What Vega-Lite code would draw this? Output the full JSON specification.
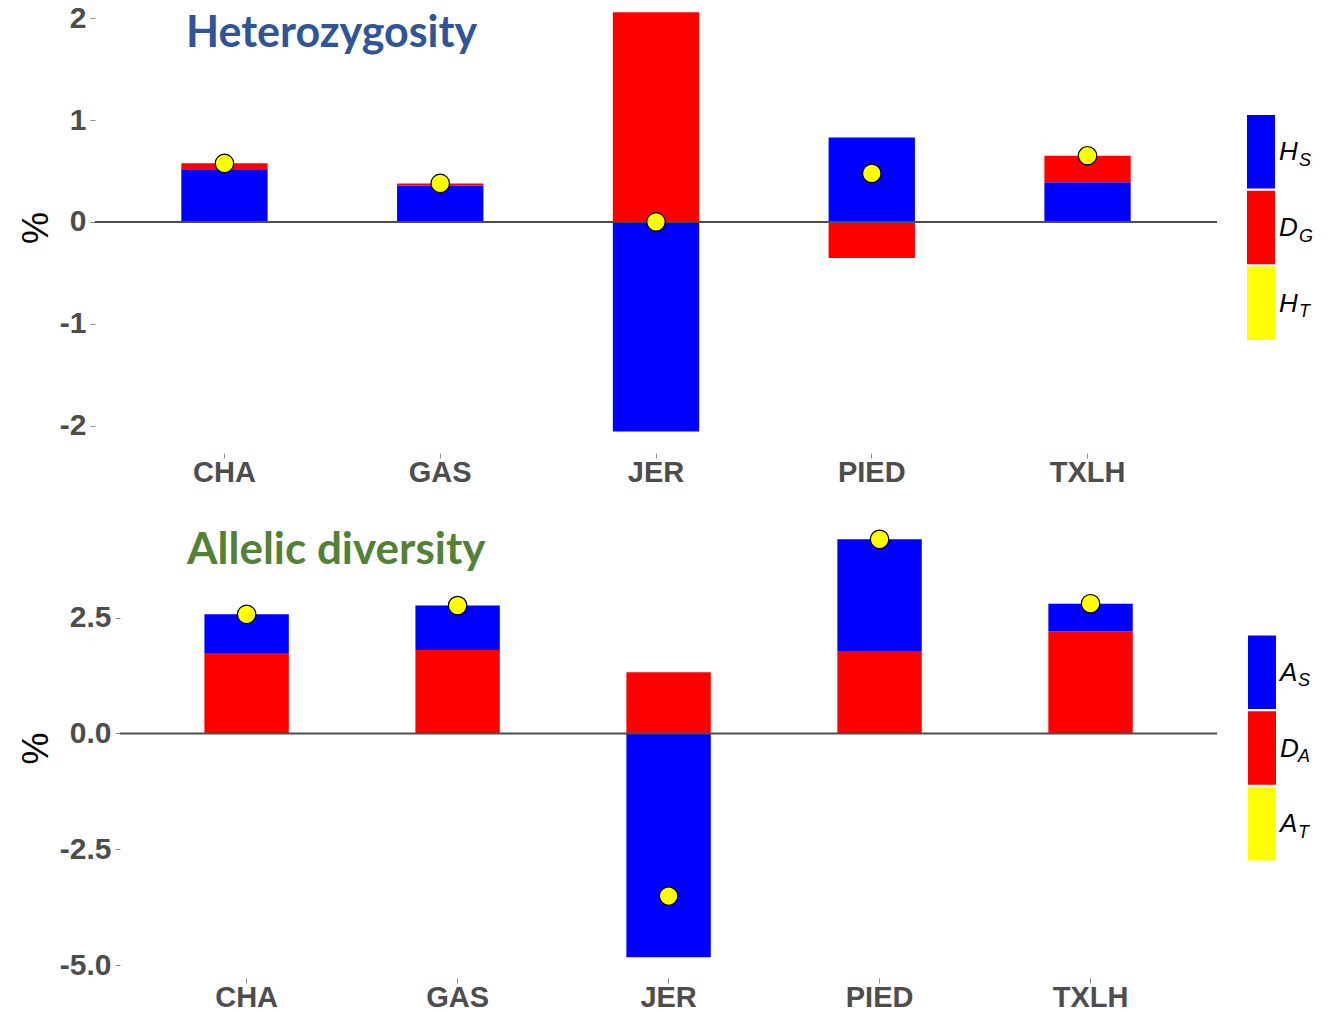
{
  "$schema": "https://vega.github.io/schema/vega-lite/v6.json",
  "background": "white",
  "padding": {"left": 18, "top": 2, "right": 0, "bottom": 0},
  "config": {
    "view": {"stroke": null},
    "axis": {
      "labelFont": "Liberation Sans",
      "labelFontWeight": "bold",
      "labelFontSize": 30,
      "labelColor": "#4D4D4D",
      "domain": false,
      "grid": false,
      "ticks": true,
      "tickColor": "#8C8C8C",
      "tickSize": 5,
      "labelPadding": 4,
      "titleFont": "Liberation Sans",
      "titleFontSize": 36,
      "titleFontWeight": "normal",
      "titleColor": "#000000",
      "titlePadding": 4
    },
    "axisX": {"labelPadding": 0, "labelFontSize": 29}
  },
  "resolve": {"scale": {"color": "independent", "y": "independent", "x": "independent"}},
  "datasets": {
    "het_bars": [
      {"site": "CHA", "comp": "HS", "value": 0.51},
      {"site": "CHA", "comp": "DG", "value": 0.065},
      {"site": "GAS", "comp": "HS", "value": 0.354},
      {"site": "GAS", "comp": "DG", "value": 0.024},
      {"site": "JER", "comp": "HS", "value": -2.06},
      {"site": "JER", "comp": "DG", "value": 2.06},
      {"site": "PIED", "comp": "HS", "value": 0.83},
      {"site": "PIED", "comp": "DG", "value": -0.354},
      {"site": "TXLH", "comp": "HS", "value": 0.39},
      {"site": "TXLH", "comp": "DG", "value": 0.26}
    ],
    "het_total": [
      {"site": "CHA", "total": 0.575},
      {"site": "GAS", "total": 0.378},
      {"site": "JER", "total": 0.0},
      {"site": "PIED", "total": 0.476},
      {"site": "TXLH", "total": 0.65}
    ],
    "al_bars": [
      {"site": "CHA", "comp": "DA", "value": 1.72},
      {"site": "CHA", "comp": "AS", "value": 0.85},
      {"site": "GAS", "comp": "DA", "value": 1.8},
      {"site": "GAS", "comp": "AS", "value": 0.96},
      {"site": "JER", "comp": "DA", "value": 1.32},
      {"site": "JER", "comp": "AS", "value": -4.83},
      {"site": "PIED", "comp": "DA", "value": 1.78},
      {"site": "PIED", "comp": "AS", "value": 2.41},
      {"site": "TXLH", "comp": "DA", "value": 2.2},
      {"site": "TXLH", "comp": "AS", "value": 0.6}
    ],
    "al_total": [
      {"site": "CHA", "total": 2.57},
      {"site": "GAS", "total": 2.76},
      {"site": "JER", "total": -3.51},
      {"site": "PIED", "total": 4.19},
      {"site": "TXLH", "total": 2.8}
    ],
    "het_legend": [
      {"key": "HS", "main": "H", "sub": "S"},
      {"key": "DG", "main": "D", "sub": "G"},
      {"key": "HT", "main": "H", "sub": "T"}
    ],
    "al_legend": [
      {"key": "AS", "main": "A", "sub": "S"},
      {"key": "DA", "main": "D", "sub": "A"},
      {"key": "AT", "main": "A", "sub": "T"}
    ]
  },
  "spacing": 31,
  "vconcat": [
    {
      "spacing": 30,
      "bounds": "flush",
      "center": true,
      "resolve": {"scale": {"color": "independent", "y": "independent", "x": "independent"}},
      "hconcat": [
        {
          "width": 1122,
          "height": 451,
          "title": {
            "text": "Heterozygosity",
            "anchor": "start",
            "frame": "group",
            "orient": "none",
            "dx": 91,
            "dy": 45,
            "align": "left",
            "baseline": "alphabetic",
            "font": "Lato",
            "fontSize": 43,
            "fontWeight": "bold",
            "color": "#2F5597"
          },
          "layer": [
            {
              "data": {"name": "het_bars"},
              "mark": {"type": "bar"},
              "encoding": {
                "x": {
                  "field": "site",
                  "type": "nominal",
                  "scale": {"paddingInner": 0.6, "paddingOuter": 0.4},
                  "axis": {"title": null, "labelAngle": 0}
                },
                "y": {
                  "field": "value",
                  "type": "quantitative",
                  "stack": "zero",
                  "scale": {"domain": [-2.27, 2.16], "nice": false, "zero": false},
                  "axis": {
                    "title": "%",
                    "values": [-2, -1, 0, 1, 2],
                    "format": "d",
                    "labelExpr": "replace(datum.label, '\u2212', '-')"
                  }
                },
                "color": {
                  "field": "comp",
                  "type": "nominal",
                  "scale": {"domain": ["HS", "DG", "HT"], "range": ["#0000FF", "#FF0000", "#FFFF00"]},
                  "legend": null
                },
                "order": {"field": "comp", "sort": "descending"}
              }
            },
            {
              "data": {"values": [{}]},
              "mark": {"type": "rule", "color": "#4D4D4D", "strokeWidth": 2},
              "encoding": {"y": {"datum": 0}}
            },
            {
              "data": {"name": "het_total"},
              "mark": {"type": "circle", "size": 340, "color": "#FFFF00", "opacity": 1, "stroke": "#000000", "strokeWidth": 1.2},
              "encoding": {
                "x": {"field": "site", "type": "nominal"},
                "y": {"field": "total", "type": "quantitative"}
              }
            }
          ]
        },
        {
          "width": 28,
          "height": 225,
          "data": {"name": "het_legend"},
          "encoding": {
            "y": {
              "field": "key",
              "type": "nominal",
              "sort": null,
              "scale": {"paddingInner": 0.03, "paddingOuter": 0},
              "axis": null
            }
          },
          "layer": [
            {
              "mark": {"type": "rect"},
              "encoding": {
                "color": {
                  "field": "key",
                  "type": "nominal",
                  "scale": {"domain": ["HS", "DG", "HT"], "range": ["#0000FF", "#FF0000", "#FFFF00"]},
                  "legend": null
                }
              }
            },
            {
              "mark": {"type": "text", "align": "left", "baseline": "alphabetic", "dx": 18, "dy": 8.5, "font": "Liberation Sans", "fontSize": 26, "fontStyle": "italic", "color": "#000000"},
              "encoding": {"text": {"field": "main"}}
            },
            {
              "mark": {"type": "text", "align": "left", "baseline": "alphabetic", "dx": 38, "dy": 14, "font": "Liberation Sans", "fontSize": 18, "fontStyle": "italic", "color": "#000000"},
              "encoding": {"text": {"field": "sub"}}
            }
          ]
        }
      ]
    },
    {
      "spacing": 31,
      "bounds": "flush",
      "center": true,
      "resolve": {"scale": {"color": "independent", "y": "independent", "x": "independent"}},
      "hconcat": [
        {
          "width": 1122,
          "height": 460,
          "title": {
            "text": "Allelic diversity",
            "anchor": "start",
            "frame": "group",
            "orient": "none",
            "dx": 92,
            "dy": 46,
            "align": "left",
            "baseline": "alphabetic",
            "font": "Lato",
            "fontSize": 44,
            "fontWeight": "bold",
            "color": "#538135"
          },
          "layer": [
            {
              "data": {"name": "al_bars"},
              "mark": {"type": "bar"},
              "encoding": {
                "x": {
                  "field": "site",
                  "type": "nominal",
                  "scale": {"paddingInner": 0.6, "paddingOuter": 0.459, "align": 0.565},
                  "axis": {"title": null, "labelAngle": 0}
                },
                "y": {
                  "field": "value",
                  "type": "quantitative",
                  "stack": "zero",
                  "scale": {"domain": [-5.28, 4.65], "nice": false, "zero": false},
                  "axis": {
                    "title": "%",
                    "offset": -25,
                    "values": [-5, -2.5, 0, 2.5],
                    "format": ".1f",
                    "labelExpr": "replace(datum.label, '\u2212', '-')"
                  }
                },
                "color": {
                  "field": "comp",
                  "type": "nominal",
                  "scale": {"domain": ["AS", "DA", "AT"], "range": ["#0000FF", "#FF0000", "#FFFF00"]},
                  "legend": null
                },
                "order": {"field": "comp", "sort": "descending"}
              }
            },
            {
              "data": {"values": [{}]},
              "mark": {"type": "rule", "color": "#4D4D4D", "strokeWidth": 2},
              "encoding": {
                "x": {"datum": "CHA", "type": "nominal", "bandPosition": -1},
                "x2": {"datum": "TXLH", "bandPosition": 2},
                "y": {"datum": 0}
              }
            },
            {
              "data": {"name": "al_total"},
              "mark": {"type": "circle", "size": 340, "color": "#FFFF00", "opacity": 1, "stroke": "#000000", "strokeWidth": 1.2},
              "encoding": {
                "x": {"field": "site", "type": "nominal"},
                "y": {"field": "total", "type": "quantitative"}
              }
            }
          ]
        },
        {
          "width": 28,
          "height": 225,
          "data": {"name": "al_legend"},
          "encoding": {
            "y": {
              "field": "key",
              "type": "nominal",
              "sort": null,
              "scale": {"paddingInner": 0.03, "paddingOuter": 0},
              "axis": null
            }
          },
          "layer": [
            {
              "mark": {"type": "rect"},
              "encoding": {
                "color": {
                  "field": "key",
                  "type": "nominal",
                  "scale": {"domain": ["AS", "DA", "AT"], "range": ["#0000FF", "#FF0000", "#FFFF00"]},
                  "legend": null
                }
              }
            },
            {
              "mark": {"type": "text", "align": "left", "baseline": "alphabetic", "dx": 18, "dy": 8.5, "font": "Liberation Sans", "fontSize": 26, "fontStyle": "italic", "color": "#000000"},
              "encoding": {"text": {"field": "main"}}
            },
            {
              "mark": {"type": "text", "align": "left", "baseline": "alphabetic", "dx": 36, "dy": 14, "font": "Liberation Sans", "fontSize": 18, "fontStyle": "italic", "color": "#000000"},
              "encoding": {"text": {"field": "sub"}}
            }
          ]
        }
      ]
    }
  ]
}
